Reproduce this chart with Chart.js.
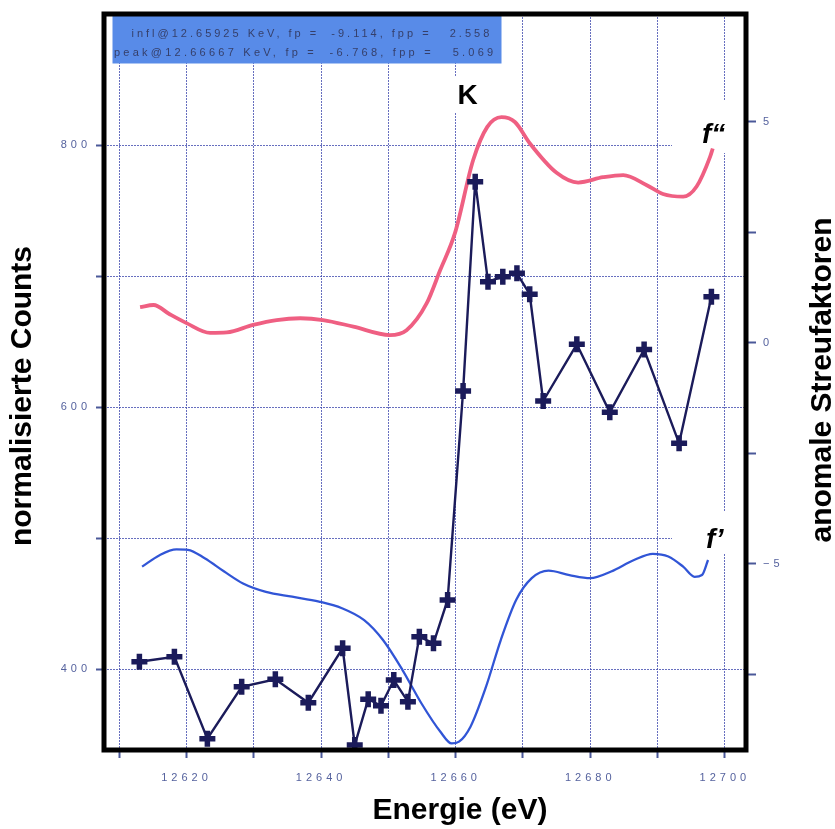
<!DOCTYPE html>
<html>
<head>
<meta charset="utf-8">
<script src="https://cdn.jsdelivr.net/npm/chart.js@4.4.1/dist/chart.umd.min.js"></script>
<style>
html,body{margin:0;padding:0;background:#fff;}
#wrap{width:835px;height:829px;position:relative;}
</style>
</head>
<body>
<div id="wrap"><canvas id="c" width="835" height="829"></canvas></div>
<script>
// ---- data ----
const energies = [12613.0, 12618.2, 12623.1, 12628.2, 12633.2, 12638.1, 12643.2, 12645.0, 12647.0, 12648.9,
                  12650.8, 12652.9, 12654.6, 12656.7, 12658.8, 12661.1, 12662.9, 12664.8, 12667.0, 12669.1,
                  12671.0, 12673.0, 12678.0, 12682.9, 12688.0, 12693.2, 12698.0];
const counts   = [405.8, 409.6, 347.0, 386.7, 392.4, 374.5, 416.0, 342.2, 377.1, 372.2,
                  391.8, 375.3, 424.9, 419.8, 452.9, 612.4, 772.2, 695.9, 699.7, 702.3,
                  686.3, 604.8, 648.1, 596.2, 644.1, 572.5, 684.4];

const fppEnergies = [12613.1, 12615.1, 12617.5, 12620.0, 12623.5, 12626.0, 12629.9, 12633.4, 12636.9, 12640.3,
                     12644.8, 12650.2, 12652.7, 12655.7, 12657.7, 12659.9, 12662.6, 12664.7, 12666.8, 12668.8,
                     12671.0, 12675.0, 12678.2, 12681.9, 12684.9, 12688.4, 12690.8, 12693.8, 12695.8, 12697.8, 12698.2];
const fppValues   = [0.81, 0.86, 0.65, 0.45, 0.23, 0.24, 0.41, 0.52, 0.56, 0.52,
                     0.37, 0.18, 0.29, 0.90, 1.65, 2.49, 4.14, 4.89, 5.11, 5.00,
                     4.52, 3.85, 3.63, 3.75, 3.80, 3.57, 3.37, 3.31, 3.54, 4.21, 4.40];

const fpEnergies = [12613.4, 12616.0, 12618.5, 12620.2, 12622.7, 12625.6, 12628.4, 12631.8, 12635.7, 12639.7,
                    12643.1, 12646.4, 12649.2, 12652.1, 12654.9, 12657.7, 12659.4, 12660.5, 12662.2, 12664.5,
                    12666.7, 12669.0, 12671.3, 12673.8, 12676.9, 12680.0, 12683.1, 12686.5, 12689.3, 12691.6,
                    12693.8, 12695.5, 12696.6, 12697.5];
const fpValues   = [-5.06, -4.80, -4.67, -4.68, -4.87, -5.17, -5.44, -5.63, -5.74, -5.85,
                    -6.00, -6.27, -6.72, -7.40, -8.15, -8.79, -9.06, -9.02, -8.68, -7.78,
                    -6.72, -5.81, -5.32, -5.15, -5.25, -5.32, -5.17, -4.91, -4.77, -4.83,
                    -5.06, -5.29, -5.25, -4.91];

const xTickValues  = [12610, 12620, 12630, 12640, 12650, 12660, 12670, 12680, 12690, 12700];
const xTickLabels  = ['', '12620', '', '12640', '', '12660', '', '12680', '', '12700'];
const yTickValues  = [400, 500, 600, 700, 800];
const yTickLabels  = ['400', '', '600', '', '800'];
const y2TickValues = [-7.5, -5, -2.5, 0, 2.5, 5];
const y2TickLabels = ['', '\u22125', '', '0', '', '5'];

const infoLines = ['infl@12.65925 KeV, fp =  -9.114, fpp =   2.558',
                   'peak@12.66667 KeV, fp =  -6.768, fpp =   5.069'];
const edgeLabel = 'K';
const fppLabel = 'f\u201C';
const fpLabel = 'f\u2019';
const xTitle = 'Energie (eV)';
const yTitle = 'normalisierte Counts';
const y2Title = 'anomale Streufaktoren';

// ---- styling ----
const FONT = "'Liberation Sans', Arial, sans-serif";
const tickTextColor = '#55629e';
const tickMarkColor = '#4a5899';
const gridColor = 'rgba(65,75,175,0.8)';

const decorations = {
  id: 'decorations',
  beforeDraw(chart) { chart.ctx.letterSpacing = '4px'; },
  beforeDatasetsDraw(chart) {
    const ctx = chart.ctx;
    ctx.letterSpacing = '0px';
    ctx.save();
    ctx.fillStyle = '#ffffff';
    const xs = chart.scales.x;
    const kx = xs.getPixelForValue(12660);
    ctx.fillRect(kx - 4, 77, 30, 36);
    ctx.fillRect(672, 100, 73, 53);
    ctx.fillRect(672, 512, 73, 41);
    ctx.fillStyle = 'rgb(88,139,232)';
    ctx.fillRect(112.5, 15, 389, 48.5);
    ctx.restore();
  },
  afterDatasetsDraw(chart) {
    const ctx = chart.ctx;
    const a = chart.chartArea;
    ctx.save();
    ctx.strokeStyle = '#000';
    ctx.lineWidth = 5;
    ctx.strokeRect(a.left, a.top, a.right - a.left, a.bottom - a.top);
    ctx.restore();
  },
  afterDraw(chart) {
    const ctx = chart.ctx;
    ctx.save();
    // info box text
    ctx.fillStyle = '#353f6a';
    ctx.font = '11px ' + FONT;
    ctx.textBaseline = 'alphabetic';
    ctx.textAlign = 'left';
    const targets = [[131.5, 36.5, 358], [114, 55.5, 379]];
    infoLines.forEach((t, i) => {
      ctx.letterSpacing = '0px';
      const w = ctx.measureText(t).width;
      const ls = (targets[i][2] - w) / (t.length - 1);
      ctx.letterSpacing = ls.toFixed(2) + 'px';
      ctx.fillText(t, targets[i][0], targets[i][1]);
    });
    ctx.letterSpacing = '0px';
    // K
    const xs = chart.scales.x;
    ctx.fillStyle = '#000';
    ctx.font = 'bold 28px ' + FONT;
    ctx.textAlign = 'center';
    ctx.fillText(edgeLabel, xs.getPixelForValue(12660) + 12, 103.5);
    // f'' and f'
    ctx.font = 'italic bold 28px ' + FONT;
    ctx.textAlign = 'left';
    ctx.fillText(fppLabel, 702, 143);
    ctx.fillText(fpLabel, 706, 548);
    // titles
    ctx.font = 'bold 30px ' + FONT;
    ctx.textAlign = 'center';
    ctx.textBaseline = 'middle';
    ctx.fillText(xTitle, 460, 811);
    ctx.save();
    ctx.translate(23, 396);
    ctx.rotate(-Math.PI / 2);
    ctx.fillText(yTitle, 0, 0);
    ctx.restore();
    ctx.save();
    ctx.translate(822.5, 380);
    ctx.rotate(-Math.PI / 2);
    ctx.fillText(y2Title, 0, 0);
    ctx.restore();
    ctx.restore();
  }
};

new Chart(document.getElementById('c'), {
  type: 'scatter',
  data: {
    datasets: [
      {
        label: 'Counts',
        data: energies.map((e, i) => ({x: e, y: counts[i]})),
        yAxisID: 'y',
        showLine: true,
        borderColor: '#1b1b5a',
        borderWidth: 2.4,
        pointStyle: 'cross',
        pointRadius: 8,
        pointHoverRadius: 8,
        pointBorderWidth: 5.5,
        pointBorderColor: '#1b1b5a',
        pointBackgroundColor: '#1b1b5a',
        tension: 0
      },
      {
        label: "f''",
        data: fppEnergies.map((e, i) => ({x: e, y: fppValues[i]})),
        yAxisID: 'y2',
        showLine: true,
        borderColor: '#ef5f82',
        borderWidth: 3.8,
        pointRadius: 0,
        cubicInterpolationMode: 'monotone'
      },
      {
        label: "f'",
        data: fpEnergies.map((e, i) => ({x: e, y: fpValues[i]})),
        yAxisID: 'y2',
        showLine: true,
        borderColor: '#3155d6',
        borderWidth: 2.3,
        pointRadius: 0,
        cubicInterpolationMode: 'monotone'
      }
    ]
  },
  options: {
    responsive: false,
    devicePixelRatio: 1,
    animation: false,
    layout: { padding: { top: 14, left: 0, right: 0, bottom: 0 } },
    plugins: { legend: { display: false }, tooltip: { enabled: false } },
    font: { family: FONT },
    scales: {
      x: {
        type: 'linear',
        position: 'bottom',
        min: 12607.74,
        max: 12703.14,
        afterBuildTicks: s => { s.ticks = xTickValues.map(v => ({value: v})); },
        afterFit: s => { s.height = 79; },
        ticks: {
          autoSkip: false, maxRotation: 0, padding: 13,
          color: tickTextColor, font: { family: FONT, size: 11 },
          callback: (v, i) => xTickLabels[i]
        },
        grid: { color: gridColor, lineWidth: 1, drawTicks: true, tickLength: 8, tickColor: tickMarkColor, tickWidth: 2 },
        border: { display: false, dash: [2, 1] }
      },
      y: {
        type: 'linear',
        position: 'left',
        min: 338.4,
        max: 900.2,
        afterBuildTicks: s => { s.ticks = yTickValues.map(v => ({value: v})); },
        afterFit: s => { s.width = 104; },
        ticks: {
          autoSkip: false, padding: 5,
          color: tickTextColor, font: { family: FONT, size: 11 },
          callback: (v, i) => yTickLabels[i]
        },
        grid: { color: gridColor, lineWidth: 1, drawTicks: true, tickLength: 8, tickColor: tickMarkColor, tickWidth: 2 },
        border: { display: false, dash: [2, 1] }
      },
      y2: {
        type: 'linear',
        position: 'right',
        min: -9.208,
        max: 7.443,
        afterBuildTicks: s => { s.ticks = y2TickValues.map(v => ({value: v})); },
        afterFit: s => { s.width = 89; },
        ticks: {
          autoSkip: false, padding: 7,
          color: tickTextColor, font: { family: FONT, size: 11 },
          callback: (v, i) => y2TickLabels[i]
        },
        grid: { drawOnChartArea: false, drawTicks: true, tickLength: 10, tickColor: tickMarkColor, tickWidth: 2 },
        border: { display: false }
      }
    }
  },
  plugins: [decorations]
});
</script>
</body>
</html>
